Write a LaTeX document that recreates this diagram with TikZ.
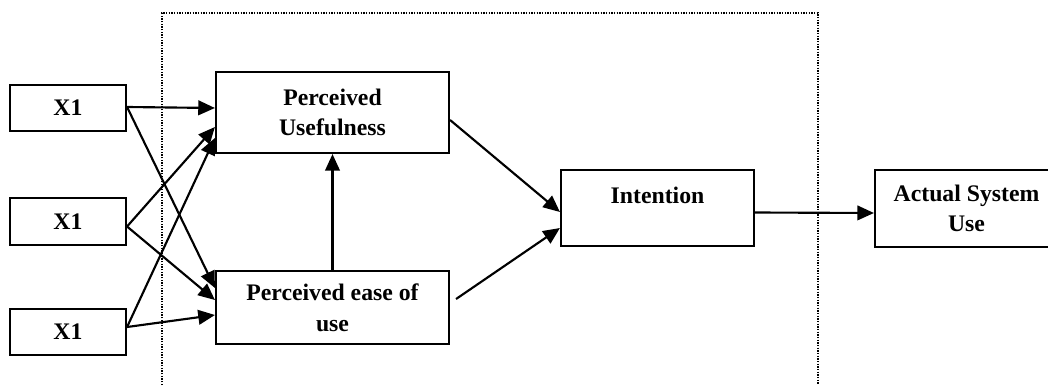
\documentclass[tikz,border=0pt]{standalone}
\usepackage{fontspec}
\setmainfont{Liberation Serif}
\usetikzlibrary{arrows.meta,calc}
\begin{document}
\begin{tikzpicture}[x=0.75pt,y=-0.75pt,
  box/.style={draw,line width=1.6pt,fill=white,inner sep=0pt,align=center,
    font=\bfseries\fontsize{17.8pt}{23pt}\selectfont},
  link/.style={line width=1.6pt,-{Triangle[length=12.5pt,width=11pt]}},
  frame/.style={line width=1pt,dash pattern=on 1pt off 1pt}]
\useasboundingbox (0,0) rectangle (1048,385);
\clip (0,0) rectangle (1048,385);

% dotted outline around the TAM core
\coordinate (fbl) at (162,385);
\coordinate (ftl) at (162,13);
\coordinate (ftr) at (818,13);
\coordinate (fbr) at (818,385);
\draw[frame] (fbl) -- (ftl) -- (ftr) -- (fbr);

% external variables
\node[box,minimum width=87pt,minimum height=34.5pt] (xa) at (68,108) {X1};
\node[box,minimum width=87pt,minimum height=35.25pt] (xb) at (68,221.5) {X1};
\node[box,minimum width=87pt,minimum height=34.5pt] (xc) at (68,332) {X1};

% constructs
\node[box,minimum width=174.75pt,minimum height=60.75pt] (pu) at (332.5,112.5) {Perceived\\Usefulness};
\node[box,minimum width=174.75pt,minimum height=54.75pt] (peu) at (332.5,307.5) {Perceived ease of\\use};
\node[box,minimum width=144.75pt,minimum height=57pt,text height=13pt,text depth=20.5pt] (int) at (657.5,208) {Intention};
\node[box,minimum width=137.25pt,minimum height=57.75pt] (asu) at (966.5,208.5) {Actual System\\Use};

% external variables to beliefs
\draw[link] ($(xa.east)+(0,-1)$) -- ($(pu.west)+(0,-4.5)$);
\draw[link] ($(xa.east)+(0,-1)$) -- ($(peu.west)+(0,-19.5)$);
\draw[link] ($(xb.east)+(0,5)$) -- ($(pu.west)+(0,14.5)$);
\draw[link] ($(xb.east)+(0,5)$) -- ($(peu.west)+(0,-7.5)$);
\draw[link] ($(xc.east)+(0,-5)$) -- ($(pu.west)+(0,25.5)$);
\draw[link] ($(xc.east)+(0,-5)$) -- ($(peu.west)+(0,7.5)$);

% beliefs to intention to use
\draw[link] (peu.north) -- (pu.south);
\draw[link] ($(pu.east)+(0,7.5)$) -- ($(int.west)+(0,4)$);
\draw[link] ($(peu.east)+(6,-8.5)$) -- ($(int.west)+(0,20)$);
\draw[link] ($(int.east)+(0,4.5)$) -- ($(asu.west)+(0,4.5)$);
\end{tikzpicture}
\end{document}
